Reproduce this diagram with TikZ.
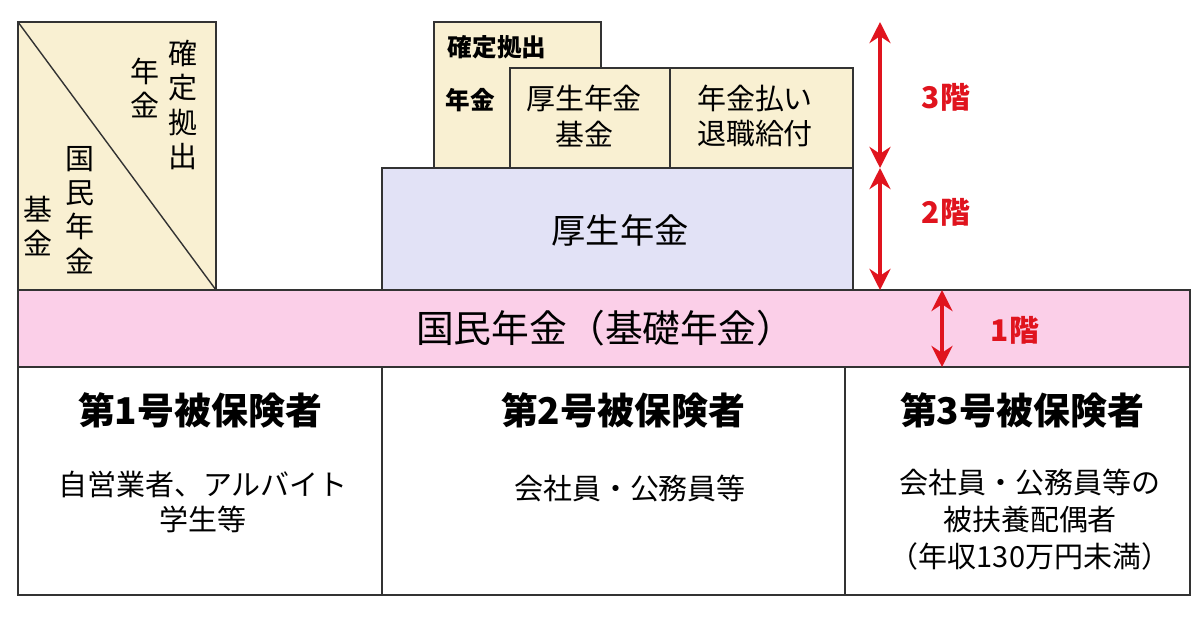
\documentclass[tikz,border=0pt]{standalone}
\usepackage{fontspec}
\setmainfont{Noto Sans CJK JP}
\usetikzlibrary{positioning,arrows.meta}
\definecolor{beige}{HTML}{F9F0D2}
\definecolor{lav}{HTML}{E2E2F6}
\definecolor{pinkbar}{HTML}{FBCFE8}
\definecolor{redar}{HTML}{E0141E}
\begin{document}
\begin{tikzpicture}[x=0.02cm,y=-0.02cm,>=stealth,
  box/.style={draw=black!80,line width=0.8pt,inner sep=0pt},
  txt/.style={font=\fontsize{16.5}{20}\selectfont,align=center},
  vtxt/.style={font=\fontsize{16.5}{19.5}\selectfont,align=center,inner sep=0pt},
  big/.style={font=\bfseries\fontsize{21}{24}\selectfont},
  lvl/.style={text=redar,font=\bfseries\fontsize{17}{20}\selectfont},
  arr/.style={<->,draw=redar,line width=2.4pt,>={Stealth[length=12pt,width=12pt]}}]
  \useasboundingbox (0,0) rectangle (1200,623);

  % third floor
  \draw[box,fill=beige] (18,22) rectangle (216,290);
  \draw[black!80,line width=0.8pt] (18,22) -- (216,290);
  \node[vtxt] (kk1) at (183,105) {確\\定\\拠\\出};
  \node[vtxt] (kk2) at (145,88) {年\\金};
  \node[vtxt] (kn1) at (80,210) {国\\民\\年\\金};
  \node[vtxt] (kn2) at (38,226) {基\\金};

  \draw[box,fill=beige] (434,22) rectangle (601,168);
  \node[txt,font=\bfseries\fontsize{14}{16}\selectfont] (dc1) at (497,47) {確定拠出};
  \node[txt,font=\bfseries\fontsize{14}{16}\selectfont] (dc2) at (470,100) {年金};
  \draw[box,fill=beige] (510,68) rectangle (670,168);
  \node[txt] (kkk) at (584,116) {厚生年金\\基金};
  \draw[box,fill=beige] (670,68) rectangle (853,168);
  \node[txt] (hr) at (755,116) {年金払い\\退職給付};

  % second floor
  \draw[box,fill=lav] (382,168) rectangle (853,290);
  \node[txt,font=\fontsize{19.5}{22}\selectfont] (kn) at (620,230) {厚生年金};

  % first floor
  \draw[box,fill=pinkbar] (18,290) rectangle (1190,367);
  \node[txt,font=\fontsize{21.5}{24}\selectfont] (kiso) at (605,328) {国民年金（基礎年金）};

  % insured
  \draw[box] (18,367) rectangle (382,595);
  \draw[box] (382,367) rectangle (845,595);
  \draw[box] (845,367) rectangle (1190,595);
  \node[big] (h1) at (200,410) {第1号被保険者};
  \node[big] (h2) at (623,410) {第2号被保険者};
  \node[big] (h3) at (1022,410) {第3号被保険者};
  \node[txt] (d1) at (203,502) {自営業者、アルバイト\\学生等};
  \node[txt] (d2) at (630,488) {会社員・公務員等};
  \node[txt,font=\fontsize{16.5}{21}\selectfont] (d3) at (1030,520) {会社員・公務員等の\\被扶養配偶者\\（年収130万円未満）};

  % floors
  \coordinate (a3t) at (880,22);
  \coordinate (a3b) at (880,168);
  \coordinate (a2b) at (880,290);
  \coordinate (a1t) at (942,290);
  \coordinate (a1b) at (942,367);
  \draw[arr] (a3t) -- (a3b);
  \draw[arr] (a3b) -- (a2b);
  \draw[arr] (a1t) -- (a1b);
  \node[lvl] (l3) at (946,97) {3階};
  \node[lvl] (l2) at (946,212) {2階};
  \node[lvl] (l1) at (1015,330) {1階};
\end{tikzpicture}
\end{document}
